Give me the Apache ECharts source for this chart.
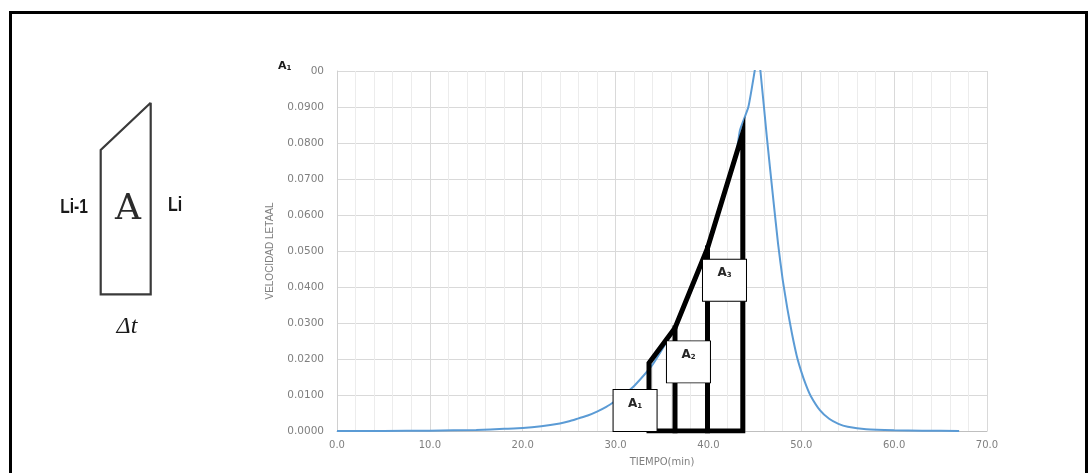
<!DOCTYPE html>
<html>
<head>
<meta charset="utf-8">
<script src="https://cdn.jsdelivr.net/npm/echarts@6/dist/echarts.min.js"></script>
<style>
  html, body { margin: 0; padding: 0; background: #ffffff; }
  #chart { width: 1090px; height: 473px; }
</style>
</head>
<body>
<div id="chart"></div>
<script>
// Lethal rate curve: time (min) and lethal rate
const tiempo = [0, 5, 10, 15, 18, 20, 22, 24, 25, 26, 27, 28, 29, 30, 31, 32, 34, 36, 38, 40, 42, 43, 43.4, 44.3, 45.0, 45.3, 45.6, 46.3, 47.0, 47.5, 48.0, 48.5, 49.0, 49.5, 50.0, 50.5, 51.0, 52.0, 53.0, 54.0, 55.0, 57.0, 60.0, 63.0, 67.0];
const velocidad = [0.0000, 0.00002, 0.0001, 0.0003, 0.0006, 0.0008, 0.0013, 0.0021, 0.0027, 0.0035, 0.0043, 0.0054, 0.0067, 0.0084, 0.0103, 0.0125, 0.0185, 0.0270, 0.0380, 0.0510, 0.0680, 0.0770, 0.0836, 0.0900, 0.1003, 0.1050, 0.1000, 0.0814, 0.0640, 0.0520, 0.0420, 0.0340, 0.0270, 0.0210, 0.0165, 0.0128, 0.0098, 0.0058, 0.0034, 0.0020, 0.0012, 0.0005, 0.0002, 0.0001, 0.0000];

// Trapezoid strips (A1, A2, A3): boundary times and lethal rate at each boundary
const stripTimes = [33.6, 36.4, 39.9, 43.7];
const stripTops = [0.0189, 0.0286, 0.0508, 0.0828];

// Area labels and the point where each label box sits
const areaNames = ['1', '2', '3'];
const areaBoxT = [32.1, 37.85, 41.73];
const areaBoxV = [0.0057, 0.0192, 0.0419];

// Axis ticks
const xTicks = [0, 10, 20, 30, 40, 50, 60, 70];
const yTickStep = 0.01;

const chart = echarts.init(document.getElementById('chart'));

const curve = tiempo.map((t, i) => [t, velocidad[i]]);

// Outline of the three strips
const outline = stripTimes.map((t, i) => [t, stripTops[i]]);
outline.unshift([stripTimes[0], 0]);
outline.push([stripTimes[stripTimes.length - 1], 0]);
outline.push([stripTimes[0], 0]);

const blackStyle = { color: '#000', width: 5, cap: 'square', join: 'miter' };

const series = [
  {
    type: 'line',
    data: curve,
    showSymbol: false,
    smooth: 0.15,
    clip: true,
    lineStyle: { color: '#5b9bd5', width: 2 },
    z: 2
  },
  {
    type: 'line',
    data: outline,
    showSymbol: false,
    lineStyle: blackStyle,
    z: 3
  }
];

// Inner vertical boundaries
for (let i = 1; i < stripTimes.length - 1; i++) {
  series.push({
    type: 'line',
    data: [[stripTimes[i], 0], [stripTimes[i], stripTops[i]]],
    showSymbol: false,
    lineStyle: blackStyle,
    z: 3
  });
}

// Label boxes
series.push({
  type: 'scatter',
  data: areaBoxT.map((t, i) => ({ value: [t, areaBoxV[i]], name: areaNames[i] })),
  symbol: 'rect',
  symbolSize: [44, 42],
  itemStyle: { color: '#ffffff', borderColor: '#000', borderWidth: 1, opacity: 1 },
  label: {
    show: true,
    position: 'inside',
    offset: [0, -7],
    formatter: p => '{a|A}{s|' + p.name + '}',
    rich: {
      a: { fontFamily: 'DejaVu Sans', fontWeight: 'bold', fontSize: 12, color: '#262626' },
      s: { fontFamily: 'DejaVu Sans', fontWeight: 'bold', fontSize: 7, color: '#262626', padding: [5, 0, 0, 0] }
    }
  },
  emphasis: { disabled: true },
  z: 5
});

const grayText = '#7f7f7f';
const narrowFont = 'bold 20px "Liberation Sans Narrow", "Liberation Sans", sans-serif';

chart.setOption({
  animation: false,
  backgroundColor: '#ffffff',
  grid: { left: 337, right: 103, top: 71, bottom: 42 },
  xAxis: {
    type: 'value',
    min: xTicks[0],
    max: xTicks[xTicks.length - 1],
    interval: xTicks[1] - xTicks[0],
    name: 'TIEMPO(min)',
    nameLocation: 'middle',
    nameGap: 26,
    nameTextStyle: { color: grayText, fontFamily: 'DejaVu Sans', fontSize: 10 },
    axisLine: { show: true, lineStyle: { color: '#bfbfbf', width: 1 } },
    axisTick: { show: false },
    axisLabel: {
      color: grayText, fontFamily: 'DejaVu Sans', fontSize: 10, margin: 9,
      formatter: v => v.toFixed(1)
    },
    splitLine: { show: true, lineStyle: { color: '#d9d9d9', width: 1 } },
    minorTick: { show: false, splitNumber: 5 },
    minorSplitLine: { show: true, lineStyle: { color: '#ececec', width: 1 } }
  },
  yAxis: {
    type: 'value',
    min: 0,
    max: 0.1,
    interval: yTickStep,
    name: 'VELOCIDAD LETAAL',
    nameLocation: 'middle',
    nameRotate: 90,
    nameGap: 62,
    nameTextStyle: { color: grayText, fontFamily: 'Liberation Sans Narrow, Liberation Sans', fontSize: 10 },
    axisLine: { show: true, lineStyle: { color: '#d0d0d0', width: 1 } },
    axisTick: { show: false },
    axisLabel: {
      color: grayText, fontFamily: 'DejaVu Sans', fontSize: 10.5, margin: 13,
      // the top label is partly covered by the A1 tag beside it
      formatter: v => (Math.abs(v - 0.1) < 1e-9 ? '00' : v.toFixed(4))
    },
    splitLine: { show: true, lineStyle: { color: '#d9d9d9', width: 1 } }
  },
  graphic: [
    // outer frame
    {
      type: 'rect', z: 100, silent: true,
      shape: { x: 10.5, y: 12.5, width: 1076, height: 480 },
      style: { fill: null, stroke: '#000', lineWidth: 3 }
    },
    // trapezoid sketch
    {
      type: 'polyline', z: 100, silent: true,
      shape: { points: [[150.7, 102.7], [100.7, 150], [100.7, 294.3], [150.7, 294.3], [150.7, 102.7]] },
      style: { fill: null, stroke: '#3a3a3a', lineWidth: 2.2 }
    },
    {
      type: 'text', z: 100, silent: true, x: 74, y: 207, scaleX: 0.78,
      style: { text: 'Li-1', fill: '#1a1a1a', font: narrowFont, align: 'center', verticalAlign: 'middle' }
    },
    {
      type: 'text', z: 100, silent: true, x: 175, y: 205, scaleX: 0.8,
      style: { text: 'Li', fill: '#1a1a1a', font: narrowFont, align: 'center', verticalAlign: 'middle' }
    },
    {
      type: 'text', z: 100, silent: true, x: 128, y: 210,
      style: { text: 'A', fill: '#2b2b2b', font: '36px "DejaVu Serif", "Liberation Serif", serif', align: 'center', verticalAlign: 'middle',
        shadowColor: 'rgba(120,80,40,0.5)', shadowBlur: 1, shadowOffsetX: 1, shadowOffsetY: 1 }
    },
    {
      type: 'text', z: 100, silent: true, x: 127, y: 327,
      style: { text: 'Δt', fill: '#1a1a1a', font: 'italic 24px "Liberation Serif", serif', align: 'center', verticalAlign: 'middle' }
    },
    // tag beside the top of the vertical axis
    {
      type: 'text', z: 100, silent: true, x: 278, y: 66,
      style: {
        text: '{a|A}{s|1}', verticalAlign: 'middle',
        rich: {
          a: { fontFamily: 'DejaVu Sans', fontWeight: 'bold', fontSize: 11, fill: '#1a1a1a' },
          s: { fontFamily: 'DejaVu Sans', fontWeight: 'bold', fontSize: 7, fill: '#1a1a1a', padding: [5, 0, 0, 0] }
        }
      }
    }
  ],
  series: series
});
</script>
</body>
</html>
